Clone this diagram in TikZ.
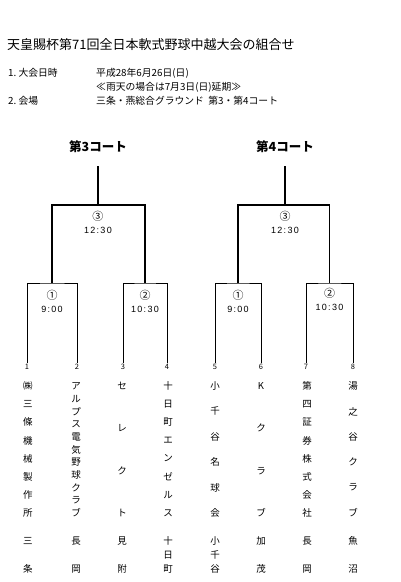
\documentclass[tikz,border=0pt]{standalone}
\usepackage{fontspec}
\setmainfont{Noto Sans CJK JP}
\newfontfamily\timefont[LetterSpace=14]{Liberation Sans}
\usetikzlibrary{positioning}

% one team name, its characters spread from a first to a last y
\newcommand{\spreadcol}[5]{%
  \foreach \ch [count=\k] in {#5} {\xdef\colcount{\k}}
  \foreach \ch [count=\k from 0] in {#5}
    \node[namechar] (#1-\k) at (#2, {#3+\k*(#4-#3)/(\colcount-1)}) {\ch};
}
\newcommand{\gamelabel}[2]{{\fontsize{11}{13}\selectfont #1}\\{\timefont #2}}

\begin{document}
\begin{tikzpicture}[x=1pt, y=-1pt,
  title/.style={anchor=west, inner sep=0pt, font=\fontsize{13}{15}\selectfont},
  info/.style={anchor=west, inner sep=0pt, font=\fontsize{9.8}{11}\selectfont},
  court/.style={inner sep=0pt, font=\fontsize{12.5}{14}\selectfont\bfseries},
  match/.style={align=center, inner sep=0pt, font=\fontsize{9}{13}\selectfont},
  num/.style={inner sep=1pt, font=\fontsize{7.5}{8}\selectfont},
  namechar/.style={inner sep=0pt, font=\fontsize{9.5}{10}\selectfont},
  bracket/.style={line width=1.3pt},
  boxline/.style={line width=1pt}
]
\useasboundingbox (0,0) rectangle (400,582);

% header
\node[title] (head) at (7,45) {天皇賜杯第71回全日本軟式野球中越大会の組合せ};
\node[info] (date) at (8,73) {1.\ 大会日時};
\node[info] (dateval) at (96,73) {平成28年6月26日(日)};
\node[info] (rain) at (96,87) {≪雨天の場合は7月3日(日)延期≫};
\node[info] (place) at (8,101) {2.\ 会場};
\node[info] (placeval) at (96,101) {三条・燕総合グラウンド\ \ 第3・第4コート};

% courts
\node[court] (court3) at (98,147) {第3コート};
\node[court] (court4) at (285,147) {第4コート};
\coordinate (top3) at (98,166);
\coordinate (top4) at (285,166);
\coordinate (fin3) at (98,205);
\coordinate (fin4) at (285,205);
\coordinate (semi1) at (52,283);
\coordinate (semi2) at (145,283);
\coordinate (semi3) at (238,283);
\coordinate (semi4) at (329.5,283);

% team numbers
\foreach \n/\x in {1/27,2/77,3/123,4/167,5/215,6/261,7/306,8/353}
  \node[num] (n\n) at (\x,367) {\n};

% match labels
\node[match] (m31) at (52,301.5) {\gamelabel{①}{9:00}};
\node[match] (m32) at (145,301.5) {\gamelabel{②}{10:30}};
\node[match] (m33) at (98,222.5) {\gamelabel{③}{12:30}};
\node[match] (m41) at (238,301.5) {\gamelabel{①}{9:00}};
\node[match] (m42) at (329.5,299) {\gamelabel{②}{10:30}};
\node[match] (m43) at (285,222.5) {\gamelabel{③}{12:30}};

% bracket lines
\draw[boxline] (n1.north) |- (semi1) -| (n2.north);
\draw[boxline] (n3.north) |- (semi2) -| (n4.north);
\draw[boxline] (n5.north) |- (semi3) -| (n6.north);
\draw[boxline] (n7.north) |- (semi4) -| (n8.north);
\draw[bracket] (semi1) |- (fin3) -| (semi2);
\draw[bracket] (semi3) |- (fin4) -| (semi4);
\draw[bracket] (fin3) -- (top3);
\draw[bracket] (fin4) -- (top4);

% team names
\spreadcol{team1}{28}{386}{513}{㈱,三,條,機,械,製,作,所}
\spreadcol{team2}{76}{386}{513}{ア,ル,プ,ス,電,気,野,球,ク,ラ,ブ}
\spreadcol{team3}{122}{386}{513}{セ,レ,ク,ト}
\spreadcol{team4}{168}{386}{513}{十,日,町,エ,ン,ゼ,ル,ス}
\spreadcol{team5}{215}{386}{513}{小,千,谷,名,球,会}
\spreadcol{team6}{261}{386}{513}{K,ク,ラ,ブ}
\spreadcol{team7}{307}{386}{513}{第,四,証,券,株,式,会,社}
\spreadcol{team8}{353}{386}{513}{湯,之,谷,ク,ラ,ブ}

% home towns
\spreadcol{town1}{28}{541}{569}{三,条}
\spreadcol{town2}{76}{541}{569}{長,岡}
\spreadcol{town3}{122}{541}{569}{見,附}
\spreadcol{town4}{168}{541}{569}{十,日,町}
\spreadcol{town5}{215}{541}{569}{小,千,谷}
\spreadcol{town6}{261}{541}{569}{加,茂}
\spreadcol{town7}{307}{541}{569}{長,岡}
\spreadcol{town8}{353}{541}{569}{魚,沼}
\end{tikzpicture}
\end{document}
